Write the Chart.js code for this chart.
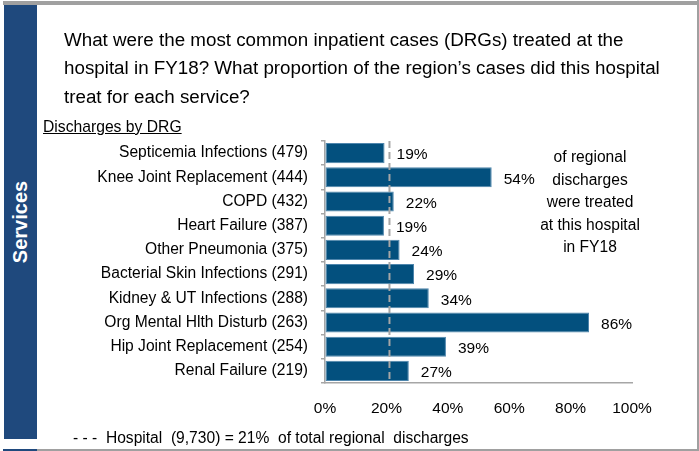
<!DOCTYPE html>
<html>
<head>
<meta charset="utf-8">
<script src="https://cdn.jsdelivr.net/npm/chart.js@4"></script>
<style>
    body { margin: 0; background: #fff; font-family: 'Liberation Sans', Arial, sans-serif; }
    #page { position: relative; width: 699px; height: 451px; overflow: hidden; }
    #chartBox { position: absolute; left: 0; top: 0; width: 699px; height: 451px; }
    .abs { position: absolute; }
    #topLine { left: 3px; top: 1px; width: 696px; height: 4px; background: #a0a0a0; }
    #rightLine { left: 697px; top: 0; width: 2px; height: 450px; background: #a0a0a0; }
    #bottomLine { left: 37px; top: 449px; width: 662px; height: 2px; background: #a0a0a0; }
    #band { left: 4px; top: 5px; width: 33px; height: 434px; background: #1f497d; }
    #bandNext { left: 3px; top: 449px; width: 34px; height: 2px; background: #1f497d; }
    #services { left: 20px; top: 222px; color: #fff; font-weight: bold; font-size: 20px;
        transform: translate(-50%, -50%) rotate(-90deg); white-space: nowrap; }
    #title { left: 64px; top: 25.5px; width: 620px; font-size: 18.8px; line-height: 28.5px; color: #000; }
    #subTitle { left: 43px; top: 118px; font-size: 15.7px; text-decoration: underline; color: #000; }
    #note { left: 530px; top: 146px; width: 120px; text-align: center; font-size: 15.6px; line-height: 22.5px; color: #000; }
    #footer { left: 73px; top: 429px; font-size: 15.6px; color: #000; white-space: pre; }
</style>
</head>
<body>
<div id="page">
    <div id="chartBox"><canvas id="drgChart"></canvas></div>
    <div class="abs" id="topLine"></div>
    <div class="abs" id="rightLine"></div>
    <div class="abs" id="bottomLine"></div>
    <div class="abs" id="band"></div>
    <div class="abs" id="bandNext"></div>
    <div class="abs" id="services">Services</div>
    <div class="abs" id="title">What were the most common inpatient cases (DRGs) treated at the hospital in FY18? What proportion of the region’s cases did this hospital treat for each service?</div>
    <div class="abs" id="subTitle">Discharges by DRG</div>
    <div class="abs" id="note">of regional<br>discharges<br>were treated<br>at this hospital<br>in FY18</div>
    <div class="abs" id="footer">- - -  Hospital  (9,730) = 21%  of total regional  discharges</div>
</div>
<script>
const drgNames = [
    'Septicemia Infections',
    'Knee Joint Replacement',
    'COPD',
    'Heart Failure',
    'Other Pneumonia',
    'Bacterial Skin Infections',
    'Kidney & UT Infections',
    'Org Mental Hlth Disturb',
    'Hip Joint Replacement',
    'Renal Failure'
];
const discharges = [479, 444, 432, 387, 375, 291, 288, 263, 254, 219];
// share of the region's discharges treated here, %
const regionalShare = [19.4, 54.3, 22.4, 19.2, 24.3, 29.0, 33.8, 86.0, 39.4, 27.3];
const hospitalShare = 21;
const xTicks = [0, 20, 40, 60, 80, 100];

const fontFamily = "'Liberation Sans', Arial, sans-serif";
const axisGrey = '#a6a6a6';

const hospitalLine = {
    id: 'hospitalLine',
    afterDatasetsDraw(chart) {
        const ctx = chart.ctx;
        const x = chart.scales.x.getPixelForValue(hospitalShare);
        ctx.save();
        ctx.strokeStyle = axisGrey;
        ctx.lineWidth = 2;
        ctx.setLineDash([7, 4]);
        ctx.beginPath();
        ctx.moveTo(x, chart.chartArea.top);
        ctx.lineTo(x, chart.chartArea.bottom);
        ctx.stroke();
        ctx.restore();
    }
};

const barLabels = {
    id: 'barLabels',
    afterDatasetsDraw(chart) {
        const ctx = chart.ctx;
        const meta = chart.getDatasetMeta(0);
        ctx.save();
        ctx.font = '15.5px ' + fontFamily;
        ctx.fillStyle = '#000';
        ctx.textAlign = 'left';
        ctx.textBaseline = 'middle';
        meta.data.forEach((bar, i) => {
            ctx.fillText(Math.round(regionalShare[i]) + '%', bar.x + 12, bar.y + 2);
        });
        ctx.restore();
    }
};

function main() {
    const labels = drgNames.map((name, i) => name + ' (' + discharges[i] + ')');

    new Chart(document.getElementById('drgChart'), {
        type: 'bar',
        data: {
            labels: labels,
            datasets: [{
                data: regionalShare,
                backgroundColor: '#03507e',
                borderColor: '#4f86ad',
                borderWidth: 1,
                borderSkipped: false,
                barPercentage: 0.83,
                categoryPercentage: 1
            }]
        },
        options: {
            indexAxis: 'y',
            responsive: true,
            maintainAspectRatio: false,
            animation: false,
            layout: { padding: { top: 141, right: 67, left: 0, bottom: 0 } },
            plugins: {
                legend: { display: false },
                tooltip: { enabled: false }
            },
            scales: {
                x: {
                    min: 0,
                    max: 100,
                    afterBuildTicks: (scale) => { scale.ticks = xTicks.map((v) => ({ value: v })); },
                    afterFit: (scale) => { scale.height = 68; },
                    grid: { drawOnChartArea: false, drawTicks: false },
                    border: { color: axisGrey, width: 1.5 },
                    ticks: {
                        padding: 16,
                        color: '#000',
                        font: { family: fontFamily, size: 15.5 },
                        callback: (v) => v + '%'
                    }
                },
                y: {
                    afterFit: (scale) => { scale.width = 325; },
                    grid: { drawOnChartArea: false, tickLength: 4, color: axisGrey, lineWidth: 1.5 },
                    border: { color: axisGrey, width: 1.5 },
                    ticks: {
                        padding: 13,
                        color: '#000',
                        font: { family: fontFamily, size: 15.6 }
                    }
                }
            }
        },
        plugins: [hospitalLine, barLabels]
    });
}

window.onload = main;
</script>
</body>
</html>
